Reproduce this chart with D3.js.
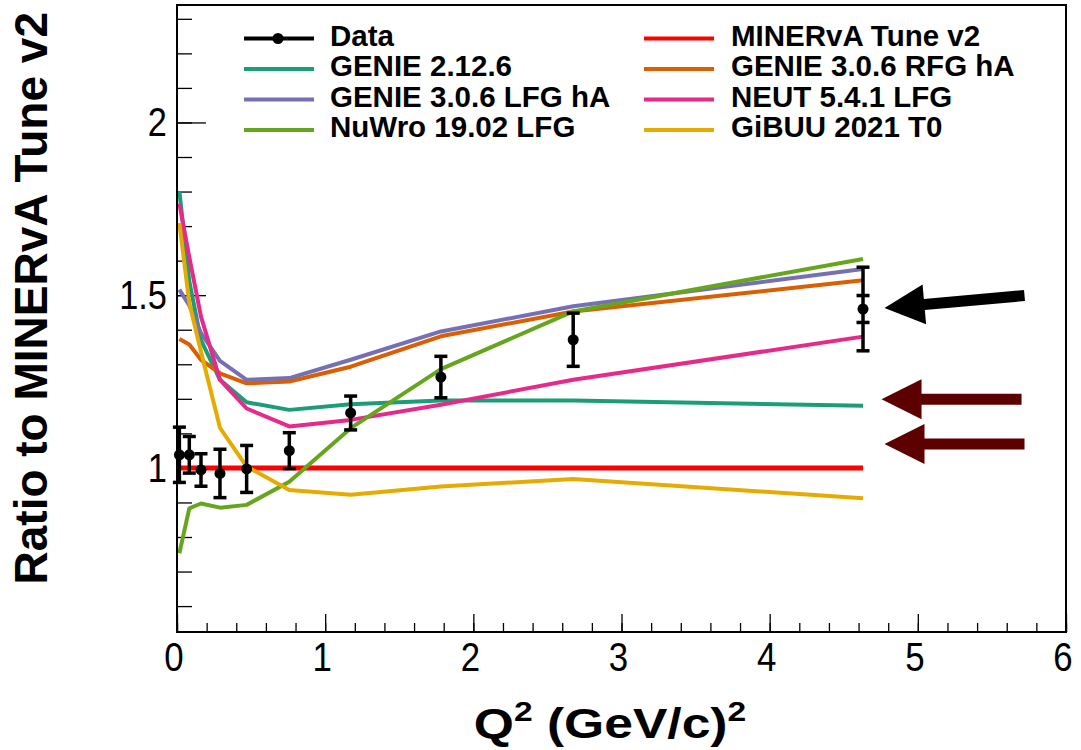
<!DOCTYPE html>
<html>
<head>
<meta charset="utf-8">
<script src="https://cdn.jsdelivr.net/npm/d3@7"></script>
<style>
  html, body { margin: 0; padding: 0; background: #fff; }
  svg { display: block; }
  text { font-family: "Liberation Sans", Arial, Helvetica, sans-serif; }
</style>
</head>
<body>
<svg id="chart" width="1081" height="750"></svg>
<script>
// ---------------- data ----------------
const q2 = [0.016, 0.083, 0.162, 0.290, 0.470, 0.758, 1.172, 1.781, 2.674, 4.63];
const dataRatio = [1.038, 1.038, 0.994, 0.984, 0.997, 1.050, 1.159, 1.263, 1.371, 1.460];
const totalErr  = [0.080, 0.053, 0.047, 0.070, 0.068, 0.052, 0.049, 0.060, 0.077, 0.121];
const statErr   = [0.012, 0.010, 0.010, 0.011, 0.012, 0.013, 0.014, 0.016, 0.020, 0.039];

const tuneV2    = [1, 1, 1, 1, 1, 1, 1, 1, 1, 1];
const genie2126 = [1.800, 1.540, 1.370, 1.255, 1.190, 1.168, 1.184, 1.195, 1.195, 1.180];
const genieRFG  = [1.373, 1.357, 1.313, 1.274, 1.245, 1.250, 1.293, 1.381, 1.453, 1.543];
const genieLFG  = [1.516, 1.470, 1.390, 1.310, 1.255, 1.260, 1.313, 1.395, 1.468, 1.576];
const neut541   = [1.765, 1.610, 1.438, 1.255, 1.172, 1.120, 1.139, 1.183, 1.255, 1.380];
const nuwro     = [0.753, 0.883, 0.897, 0.885, 0.893, 0.960, 1.115, 1.286, 1.453, 1.605];
const gibuu     = [1.709, 1.477, 1.336, 1.116, 1.004, 0.936, 0.922, 0.946, 0.968, 0.912];

const seriesNames  = ["MINERvA Tune v2", "GENIE 2.12.6", "GENIE 3.0.6 RFG hA", "GENIE 3.0.6 LFG hA", "NEUT 5.4.1 LFG", "NuWro 19.02 LFG", "GiBUU 2021 T0"];
const seriesValues = [tuneV2, genie2126, genieRFG, genieLFG, neut541, nuwro, gibuu];
const seriesColors = ["#ff0000", "#1b9e77", "#d95f02", "#7570b3", "#e7298a", "#66a61e", "#e6ab02"];
const seriesWidths = [5, 4, 4, 4, 4, 4, 4];

// legend layout order (row-wise, two columns)
const legendOrder = ["Data", "MINERvA Tune v2", "GENIE 2.12.6", "GENIE 3.0.6 RFG hA",
                     "GENIE 3.0.6 LFG hA", "NEUT 5.4.1 LFG", "NuWro 19.02 LFG", "GiBUU 2021 T0"];

const xTickLabels = ["0", "1", "2", "3", "4", "5", "6"];
const yTickLabels = ["1", "1.5", "2"];

// annotation arrows: tip and tail in data units
const arrows = [
  {tip: [4.775, 1.463], tail: [5.720, 1.499], color: "#000000"},
  {tip: [4.755, 1.199], tail: [5.700, 1.199], color: "#5c0000"},
  {tip: [4.775, 1.069], tail: [5.720, 1.069], color: "#5c0000"}
];

// ---------------- layout ----------------
const svg = d3.select("#chart");
const L = 177, R = 1066, T = 5, B = 632;
const x = d3.scaleLinear().domain([0, 6]).range([L, R]);
const y = d3.scaleLinear().domain([0.525, 2.34]).range([B, T]);

// axes ticks (inside the frame, ROOT style)
const xAxis = d3.axisTop(x).tickValues(d3.range(0, 6.001, 1)).tickSize(18).tickFormat("");
const xMinor = d3.axisTop(x).tickValues(d3.range(0, 6.001, 0.2)).tickSize(9).tickFormat("");
const yAxis = d3.axisRight(y).tickValues([1, 1.5, 2]).tickSize(29).tickFormat("");
const yMinor = d3.axisRight(y).tickValues(d3.range(0.6, 2.34, 0.1)).tickSize(15).tickFormat("");

function styleAxis(g) {
  g.select(".domain").remove();
  g.selectAll(".tick line").attr("stroke", "#000").attr("stroke-width", 1.3);
}
svg.append("g").attr("transform", `translate(0,${B})`).call(xMinor).call(styleAxis);
svg.append("g").attr("transform", `translate(0,${B})`).call(xAxis).call(styleAxis);
svg.append("g").attr("transform", `translate(${L},0)`).call(yMinor).call(styleAxis);
svg.append("g").attr("transform", `translate(${L},0)`).call(yAxis).call(styleAxis);

// tick labels
svg.append("g").selectAll("text").data(xTickLabels).join("text")
  .attr("x", d => x(+d) - 3).attr("y", B + 39)
  .attr("text-anchor", "middle")
  .attr("font-size", 41)
  .attr("transform", d => `translate(${x(+d) - 3},0) scale(0.85,1) translate(${-(x(+d) - 3)},0)`)
  .text(d => d);
svg.append("g").selectAll("text").data(yTickLabels).join("text")
  .attr("x", L - 10).attr("y", d => y(+d) + 14)
  .attr("text-anchor", "end")
  .attr("font-size", 40)
  .attr("transform", `translate(${L - 10},0) scale(0.86,1) translate(${-(L - 10)},0)`)
  .text(d => d);

// axis titles
const xtX = 610;
const xt = svg.append("text").attr("x", xtX).attr("y", 738)
  .attr("text-anchor", "middle").attr("font-size", 43).attr("font-weight", "bold")
  .attr("transform", `translate(${xtX},0) scale(1.2,1) translate(${-xtX},0)`);
xt.append("tspan").text("Q");
xt.append("tspan").attr("dy", -17).attr("font-size", 28).text("2");
xt.append("tspan").attr("dy", 17).text(" (GeV/c)");
xt.append("tspan").attr("dy", -17).attr("font-size", 28).text("2");

svg.append("text")
  .attr("transform", `translate(47,12) rotate(-90)`)
  .attr("text-anchor", "end")
  .attr("font-size", 46).attr("font-weight", "bold")
  .text("Ratio to MINERvA Tune v2");

// clip
svg.append("clipPath").attr("id", "plotclip")
  .append("rect").attr("x", L).attr("y", T).attr("width", R - L).attr("height", B - T);
const plot = svg.append("g").attr("clip-path", "url(#plotclip)");

// model curves
const line = d3.line().x((d, i) => x(q2[i])).y(d => y(d));
seriesValues.forEach((vals, k) => {
  plot.append("path").datum(vals)
    .attr("d", line)
    .attr("fill", "none")
    .attr("stroke", seriesColors[k])
    .attr("stroke-width", seriesWidths[k])
    .attr("stroke-linejoin", "round");
});

// data points with error bars
const pts = svg.append("g");
const capW = 6.5, markR = 5.5;
dataRatio.forEach((v, i) => {
  const cx = x(q2[i]);
  const g = pts.append("g");
  g.append("line").attr("x1", cx).attr("x2", cx)
    .attr("y1", y(v - totalErr[i])).attr("y2", y(v + totalErr[i]))
    .attr("stroke", "#000").attr("stroke-width", 3.5);
  const caps = [v - totalErr[i], v + totalErr[i]];
  if (y(v) - y(v + statErr[i]) > markR + 3) caps.push(v - statErr[i], v + statErr[i]);
  caps.forEach(e => {
    g.append("line").attr("x1", cx - capW).attr("x2", cx + capW)
      .attr("y1", y(e)).attr("y2", y(e))
      .attr("stroke", "#000").attr("stroke-width", 3.5);
  });
  g.append("circle").attr("cx", cx).attr("cy", y(v)).attr("r", markR).attr("fill", "#000");
});

// frame
svg.append("rect").attr("x", L).attr("y", T).attr("width", R - L).attr("height", B - T)
  .attr("fill", "none").attr("stroke", "#000").attr("stroke-width", 2);

// legend
const legCols = [{lx: 244, tx: 330}, {lx: 644, tx: 731}];
const legRowY = [38.5, 69, 99.5, 130];
legendOrder.forEach((name, i) => {
  const col = legCols[i % 2];
  const ry = legRowY[Math.floor(i / 2)];
  const g = svg.append("g");
  const k = seriesNames.indexOf(name);
  const color = name === "Data" ? "#000" : seriesColors[k];
  g.append("line").attr("x1", col.lx).attr("x2", col.lx + 70)
    .attr("y1", ry).attr("y2", ry).attr("stroke", color).attr("stroke-width", 4);
  if (name === "Data") {
    g.append("circle").attr("cx", col.lx + 34).attr("cy", ry).attr("r", 5.5).attr("fill", "#000");
  }
  g.append("text").attr("x", col.tx).attr("y", ry + 7)
    .attr("font-size", 29.5).attr("font-weight", "bold")
    .text(name);
});

// arrows
arrows.forEach(a => {
  const tx = x(a.tip[0]), ty = y(a.tip[1]);
  const sx = x(a.tail[0]), sy = y(a.tail[1]);
  const ang = Math.atan2(sy - ty, sx - tx);
  const headLen = 40, headHalf = 20, shaftHalf = 5.5;
  const ux = Math.cos(ang), uy = Math.sin(ang);
  const nx = -uy, ny = ux;
  const len = Math.hypot(sx - tx, sy - ty);
  const p = (along, across) => [tx + ux * along + nx * across, ty + uy * along + ny * across];
  const poly = [p(0, 0), p(headLen, headHalf), p(headLen, shaftHalf), p(len, shaftHalf),
                p(len, -shaftHalf), p(headLen, -shaftHalf), p(headLen, -headHalf)];
  svg.append("polygon").attr("points", poly.map(q => q.join(",")).join(" "))
    .attr("fill", a.color);
});
</script>
</body>
</html>
